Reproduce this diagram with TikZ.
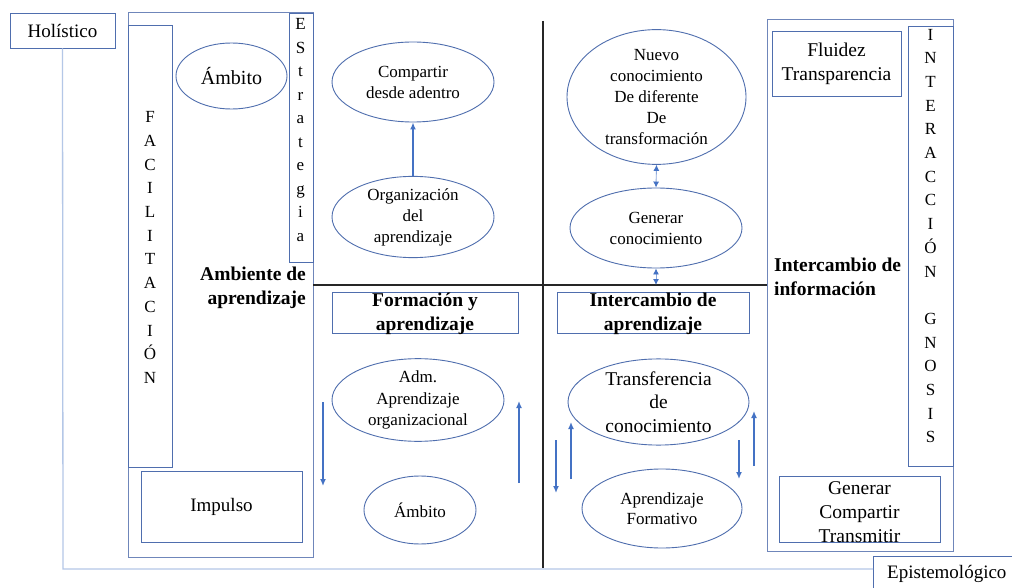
\documentclass[tikz,border=0pt]{standalone}
\usepackage{fontspec}
\setmainfont{Liberation Serif}
\usetikzlibrary{shapes.geometric,arrows.meta}
\definecolor{bxc}{HTML}{4F6EAE}
\definecolor{outc}{HTML}{6F86BA}
\definecolor{arrc}{HTML}{4472C4}
\definecolor{holc}{HTML}{B4C7E7}
\definecolor{thinc}{HTML}{8FAADC}
\begin{document}
\begin{tikzpicture}[x=1pt,y=-1pt,
  bx/.style={draw=bxc, line width=0.9pt, rectangle, inner sep=0pt, align=center},
  outerbox/.style={draw=outc, line width=1pt, rectangle, inner sep=0pt},
  el/.style={draw=bxc, line width=0.9pt, ellipse, inner sep=0pt, align=center},
  fA/.style={font=\fontsize{17}{21}\selectfont},
  fB/.style={font=\fontsize{19.5}{24}\selectfont},
  fBold/.style={font=\fontsize{19.5}{23.5}\selectfont\bfseries},
  stack/.style={font=\fontsize{17}{23.7}\selectfont, align=center, inner sep=0pt},
  arr/.style={draw=arrc, line width=1.4pt, -{Latex[length=7pt,width=6pt]}},
  dbl/.style={draw=thinc, line width=0.9pt, {Latex[length=6pt,width=6pt,color=arrc]}-{Latex[length=6pt,width=6pt,color=arrc]}},
  blk/.style={draw=black!85, line width=1.3pt}]
\useasboundingbox (0,0) rectangle (1012,588);
\fill[white] (0,0) rectangle (1012,588);

% Holistico and Epistemologico
\node[bx, minimum width=105pt, minimum height=35pt, font=\fontsize{19}{22}\selectfont] (hol) at (62.5,30.5) {Holístico};
\node[bx, anchor=north west, minimum width=160pt, minimum height=50pt] (epi) at (873,556) {};
\node[anchor=west, inner sep=0pt, font=\fontsize{19}{22}\selectfont] (epit) at (887,574) {Epistemológico};
\coordinate (hc) at (63,569);
\draw[holc, line width=1.3pt] (hol.south) -- (hc) -- (hc -| epi.west);

% left big box
\node[outerbox, minimum width=185pt, minimum height=544pt] (amb) at (220.5,285) {};
\node[bx, minimum width=44pt, minimum height=442pt] (fac) at (150,246) {};
\node[stack] (fact) at (150,247.5) {F\\A\\C\\I\\L\\I\\T\\A\\C\\I\\Ó\\N};
\node[bx, minimum width=24pt, minimum height=249pt] (est) at (301,137.5) {};
\node[stack, font=\fontsize{17}{23.5}\selectfont] (estt) at (300.5,130) {E\\S\\t\\r\\a\\t\\e\\g\\i\\a};
\node[el, minimum width=111pt, minimum height=66pt, font=\fontsize{20}{24}\selectfont] (amb1) at (231.5,76) {Ámbito};
\node[fBold, anchor=east, align=right, inner sep=0pt] (ambt) at (306,288) {Ambiente de\\aprendizaje};
\node[bx, minimum width=161pt, minimum height=71pt, font=\fontsize{19}{22}\selectfont] (imp) at (221.5,506.5) {Impulso};

% quadrant lines
\coordinate (hl) at (313,285);
\coordinate (hr) at (767,285);
\coordinate (vt) at (543,21);
\coordinate (vb) at (543,568);
\draw[blk] (hl) -- (hr);
\draw[blk] (vt) -- (vb);

% upper left quadrant
\node[el, fA, minimum width=162pt, minimum height=80pt] (comp) at (413,82) {Compartir\\desde adentro};
\node[el, fA, minimum width=162pt, minimum height=80pt] (org) at (413,217) {Organización\\del\\aprendizaje};
\draw[arr] (org.north) -- (comp.south);

% lower left quadrant
\node[bx, minimum width=186pt, minimum height=41pt] (form) at (425,312.5) {};
\node[fBold, align=center, inner sep=0pt] (formt) at (425,314) {Formación y\\aprendizaje};
\node[el, fA, font=\fontsize{17}{21.5}\selectfont, minimum width=172pt, minimum height=80pt] (adm) at (418,400) {Adm.\\Aprendizaje\\organizacional};
\node[el, fA, minimum width=112pt, minimum height=68pt] (amb2) at (420,510) {Ámbito};
\coordinate (a1s) at (323,402); \coordinate (a1e) at (323,486);
\coordinate (a2s) at (519,483); \coordinate (a2e) at (519,401);
\draw[arr] (a1s) -- (a1e);
\draw[arr] (a2s) -- (a2e);

% upper right quadrant
\node[el, fA, minimum width=179pt, minimum height=114pt] (nue) at (656.5,97) {Nuevo\\conocimiento\\De diferente\\De\\transformación};
\node[el, fA, minimum width=172pt, minimum height=80pt] (gen) at (656,228) {Generar\\conocimiento};
\coordinate (gl) at (656,285);
\draw[dbl] (nue.south) -- (gen.north);
\draw[dbl] (gen.south) -- (gl);

% lower right quadrant
\node[bx, minimum width=192pt, minimum height=41pt] (inta) at (653,312.5) {};
\node[fBold, align=center, inner sep=0pt] (intat) at (653,314) {Intercambio de\\aprendizaje};
\node[el, font=\fontsize{19.5}{23.5}\selectfont, minimum width=181pt, minimum height=80pt] (tra) at (658.5,402) {Transferencia\\de\\conocimiento};
\node[el, font=\fontsize{17}{20}\selectfont, minimum width=160pt, minimum height=79pt] (apr) at (662,508.5) {Aprendizaje\\Formativo};
\coordinate (b1s) at (556,440); \coordinate (b1e) at (556,493);
\coordinate (b2s) at (571,479); \coordinate (b2e) at (571,422);
\coordinate (b3s) at (739,440); \coordinate (b3e) at (739,479);
\coordinate (b4s) at (754,466); \coordinate (b4e) at (754,411);
\draw[arr] (b1s) -- (b1e);
\draw[arr] (b2s) -- (b2e);
\draw[arr] (b3s) -- (b3e);
\draw[arr] (b4s) -- (b4e);

% right big box
\node[outerbox, minimum width=186pt, minimum height=531pt] (rbox) at (860,285.5) {};
\node[bx, fB, minimum width=129pt, minimum height=65pt] (flu) at (836.5,63.5) {Fluidez\\Transparencia};
\node[bx, minimum width=45pt, minimum height=440pt] (intg) at (930.5,246) {};
\node[stack] (intgt) at (930.5,236) {I\\N\\T\\E\\R\\A\\C\\C\\I\\Ó\\N\\[23.7pt]G\\N\\O\\S\\I\\S};
\node[fBold, anchor=west, align=left, inner sep=0pt] (infot) at (774,277) {Intercambio de\\información};
\node[bx, fB, minimum width=161pt, minimum height=66pt] (gct) at (859.5,509) {};
\node[fB, align=center, inner sep=0pt] (gctt) at (859.5,512) {Generar\\Compartir\\Transmitir};
\end{tikzpicture}
\end{document}
